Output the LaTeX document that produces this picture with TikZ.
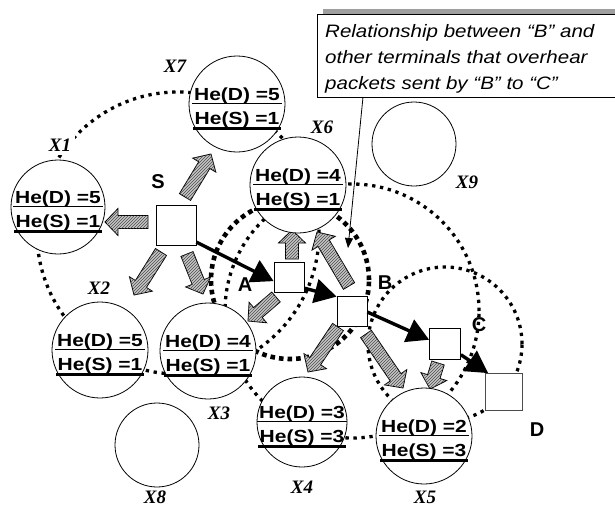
\documentclass[tikz,border=0pt]{standalone}
\usepackage{fontspec}
\usetikzlibrary{arrows.meta,calc,patterns}
\newfontfamily\hefont[FakeStretch=1.2]{Liberation Sans}
\newfontfamily\callfont[FakeStretch=1.14]{Liberation Sans}
\newfontfamily\lblfont{Liberation Sans}
\newfontfamily\xfont{Liberation Serif}
\tikzset{
 xcirc/.style={circle, draw, fill=white, line width=0.8pt, inner sep=0pt},
 hetext/.style={font=\hefont\bfseries\fontsize{17.5}{20}\selectfont, inner sep=0pt},
 sqbox/.style={draw, fill=white, line width=0.8pt, inner sep=0pt},
 xname/.style={font=\xfont\bfseries\itshape\fontsize{19}{22}\selectfont, inner sep=0pt},
 nname/.style={font=\lblfont\bfseries\fontsize{20}{24}\selectfont, inner sep=0pt},
 calltext/.style={font=\callfont\itshape\fontsize{18}{22}\selectfont, inner sep=0pt},
 rangeM/.style={line width=3.3pt, dash pattern=on 3.3pt off 4.7pt},
 rangeT/.style={line width=4.6pt, dash pattern=on 4.6pt off 4pt},
 garrowstyle/.style={draw, line width=0.8pt, fill=gray!45, postaction={pattern=north east lines, pattern color=gray!60!black}},
 blk/.style={line width=3.4pt, -{Triangle[length=22pt,width=24pt]}},
 pointer/.style={line width=0.8pt, -{Triangle[length=10pt,width=8pt]}},
}
% gray block arrow from tail #1 to tip #2
\newcommand\garrow[2]{%
  \path ($(#2)!13pt!(#1)$) coordinate (gbase);
  \draw[garrowstyle] ($(#1)!6.5pt!90:(#2)$) -- ($(gbase)!6.5pt!90:(#2)$) -- ($(gbase)!13.5pt!90:(#2)$)
    -- (#2) -- ($(gbase)!13.5pt!-90:(#2)$) -- ($(gbase)!6.5pt!-90:(#2)$) -- ($(#1)!6.5pt!-90:(#2)$) -- cycle;
}
% circle with hop counts: name, cx, cy, r, D, S
\newcommand\hecirc[6]{%
  \node[xcirc, minimum size={#4*2pt}] (#1) at (#2,#3) {};
  \node[hetext, anchor=base] (#1d) at (#2,#3-3.5) {He(D) =#5};
  \node[hetext, anchor=base] (#1s) at (#2,#3+20.5) {He(S) =#6};
  \draw[line width=1.4pt] (#2-45,#3-0.5) -- (#2+45,#3-0.5);
  \draw[line width=2.4pt] (#2-44,#3+24.5) -- (#2+44,#3+24.5);
}
\begin{document}
\begin{tikzpicture}[x=1pt,y=-1pt]
\useasboundingbox (0,0) rectangle (615,506);
\clip (0,0) rectangle (615,506);
% callout
\fill[gray!75] (323,9) rectangle (640,92);
\node[draw, fill=white, line width=0.8pt, minimum width=323pt, minimum height=83pt, inner sep=0pt, anchor=north west] (note) at (317,14) {};
\node[calltext, anchor=base west] (c1) at (325,37) {Relationship between “B” and};
\node[calltext, anchor=base west] (c2) at (325,63) {other terminals that overhear};
\node[calltext, anchor=base west] (c3) at (325,89) {packets sent by “B” to “C”};
% node positions
\coordinate (Sc) at (176,225);
\coordinate (Ac) at (289,277);
\coordinate (Bc) at (352,311);
\coordinate (Cc) at (445,344);
% transmission ranges
\draw[rangeM] ($(Sc)+(2,8)$) circle [radius=141pt];
\draw[rangeT] ($(Ac)+(1,3)$) circle [radius=79pt];
\draw[rangeM] (Bc) circle [radius=127pt];
\draw[rangeM] (Cc) circle [radius=77pt];
% gray arrows
\coordinate (g1a) at (185,197); \coordinate (g1b) at (211,154);
\coordinate (g2a) at (148,222); \coordinate (g2b) at (105,222);
\coordinate (g3a) at (161,252); \coordinate (g3b) at (134,295);
\coordinate (g4a) at (187,254); \coordinate (g4b) at (203,294);
\coordinate (g5a) at (292,259); \coordinate (g5b) at (292,230);
\coordinate (g6a) at (276,297); \coordinate (g6b) at (248,321);
\coordinate (g7a) at (349,286); \coordinate (g7b) at (317,232);
\coordinate (g8a) at (338,327); \coordinate (g8b) at (308,372);
\coordinate (g9a) at (366,334); \coordinate (g9b) at (403,388);
\coordinate (g10a) at (438,363); \coordinate (g10b) at (430,389);
\garrow{g1a}{g1b}
\garrow{g2a}{g2b}
\garrow{g3a}{g3b}
\garrow{g4a}{g4b}
\garrow{g5a}{g5b}
\garrow{g6a}{g6b}
\garrow{g7a}{g7b}
\garrow{g8a}{g8b}
\garrow{g9a}{g9b}
\garrow{g10a}{g10b}
% terminals
\hecirc{X1}{58}{207}{47}{5}{1}
\hecirc{X7}{237}{104}{48}{5}{1}
\hecirc{X6}{298}{185}{48}{4}{1}
\hecirc{X2}{100}{350}{48}{5}{1}
\hecirc{X3}{208}{351}{48}{4}{1}
\hecirc{X4}{302}{422}{45}{3}{3}
\hecirc{X5}{424}{436}{48}{2}{3}
\node[xcirc, minimum size=84pt] (X9) at (414,144) {};
\node[xcirc, minimum size=84pt] (X8) at (157,445) {};
% squares
\node[sqbox, minimum size=40pt] (S) at (Sc) {};
\node[sqbox, minimum size=30pt] (A) at (Ac) {};
\node[sqbox, minimum size=30pt] (B) at (Bc) {};
\node[sqbox, minimum size=31pt] (C) at (Cc) {};
\node[sqbox, draw=black!70, minimum size=37pt] (D) at (504,392) {};
% route arrows
\draw[blk] (S.-40) -- (A.195);
\draw[blk] (A.-36) -- (B.137);
\draw[blk] (B.-4) -- (C.165);
\draw[blk] (C.-34) -- (D.130);
% labels
\node[xname, fill=white, inner sep=4pt] (lX1) at (60,145) {X1};
\node[xname] (lX7) at (175,66) {X7};
\node[xname] (lX6) at (322,127) {X6};
\node[xname] (lX9) at (467,182) {X9};
\node[xname] (lX2) at (99,288) {X2};
\node[xname] (lX3) at (219,413) {X3};
\node[xname] (lX8) at (155,497) {X8};
\node[xname] (lX4) at (302,487) {X4};
\node[xname] (lX5) at (425,497) {X5};
\node[nname] (lS) at (158,182) {S};
\node[nname] (lA) at (245,285) {A};
\node[nname] (lB) at (385,283) {B};
\node[nname] (lC) at (479,325) {C};
\node[nname] (lD) at (537,430) {D};
% pointer
\coordinate (ptail) at (363,97);
\coordinate (phead) at (348,248);
\draw[pointer] (ptail) -- (phead);
\end{tikzpicture}
\end{document}
